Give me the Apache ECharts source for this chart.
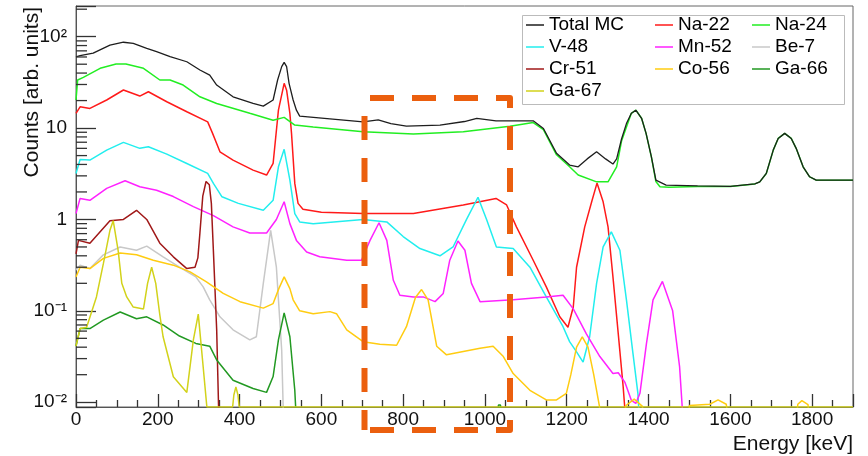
<!DOCTYPE html>
<html>
<head>
<meta charset="utf-8">
<script src="https://cdn.jsdelivr.net/npm/echarts@6/dist/echarts.min.js"></script>
<style>html,body{margin:0;padding:0;background:#fff}#c{width:868px;height:456px}</style>
</head>
<body>
<div id="c"></div>
<script>
// ---- data (energy keV, counts) ----
const ZERO = 0.00886; // histogram zero level drawn on the frame bottom
const OFF = 0.005;    // below the visible range
const yMajorTicks = [0.01, 0.1, 1, 10, 100];
const yMinorTicks = [0.02,0.03,0.04,0.05,0.06,0.07,0.08,0.09,0.2,0.3,0.4,0.5,0.6,0.7,0.8,0.9,2,3,4,5,6,7,8,9,20,30,40,50,60,70,80,90,200];
const yTickLabels = {0.01: '10\u207B\u00B2', 0.1: '10\u207B\u00B9', 1: '1', 10: '10', 100: '10\u00B2'};

const totalMC = [[0,60],[10,62],[42,66],[83,81],[116,87],[140,84.5],[173,74.6],[197,68.5],[230,60.4],[271,53.2],[303,43.2],[327,38],[344,29.6],[384,22],[433,18.6],[458,17.4],[482,20.3],[493,33.6],[503,47],[509,52.4],[515,47],[521,30.9],[531,20.3],[539,15.7],[547,13.5],[621,12.6],[702,11.7],[739,12.3],[770,11.2],[808,10.5],[890,10.8],[950,11.8],[980,12.8],[1027,12],[1118,12],[1143,9.9],[1175,5.3],[1207,3.94],[1228,3.77],[1250,4.6],[1273,5.5],[1295,4.6],[1313,4.04],[1322,4.6],[1334,7.6],[1346,11.2],[1358,14.5],[1369,15.7],[1383,12.8],[1394,8.75],[1407,4.85],[1418,2.69],[1443,2.38],[1520,2.33],[1600,2.3],[1660,2.45],[1672,2.58],[1688,3.19],[1705,5.74],[1717,7.7],[1733,8.75],[1749,7.7],[1761,6.0],[1778,3.77],[1794,2.93],[1810,2.69],[1900,2.69]];
const na22 = [[0,14.5],[10,17.1],[34,16.4],[75,20.3],[116,26.1],[156,22.4],[177,25],[222,19.4],[271,15.1],[322,11.7],[334,8.75],[352,5.5],[384,4.46],[433,3.47],[466,3.06],[482,4.1],[495,15.7],[509,30.9],[515,26],[523,14.5],[527,8.75],[535,2.48],[543,1.5],[555,1.29],[600,1.2],[702,1.16],[825,1.16],[947,1.44],[1027,1.7],[1053,1.44],[1077,0.83],[1118,0.358],[1150,0.183],[1183,0.086],[1203,0.066],[1216,0.11],[1224,0.3],[1244,0.83],[1261,1.56],[1274,2.5],[1289,1.56],[1301,0.83],[1313,0.235],[1326,0.056],[1338,0.0147],[1346,OFF]];
const na24 = [[0,20.3],[4,33.6],[18,35.9],[59,45.1],[98,50.2],[122,50.2],[165,45.1],[205,33.6],[230,33.6],[262,29.6],[303,22],[344,18.6],[425,14.5],[482,12.2],[509,13.1],[535,10.8],[580,10.3],[702,9.1],[825,8.6],[947,9.1],[1061,10.5],[1118,11.5],[1143,9.6],[1175,5.1],[1207,3.77],[1228,3.06],[1273,2.58],[1301,2.58],[1322,3.77],[1334,7.2],[1346,10.3],[1358,14.5],[1369,15.7],[1383,12.8],[1394,8.75],[1407,4.85],[1418,2.6],[1428,2.28],[1450,2.25],[1520,2.3],[1600,2.3],[1660,2.45],[1672,2.58],[1688,3.19],[1705,5.74],[1717,7.7],[1733,8.75],[1749,7.7],[1761,6.0],[1778,3.77],[1794,2.93],[1810,2.69],[1900,2.69]];
const v48 = [[0,3.19],[10,4.54],[34,4.46],[75,5.74],[116,6.97],[156,6.0],[177,6.24],[222,5.19],[271,4.1],[322,3.19],[336,2.48],[357,1.77],[397,1.5],[458,1.26],[482,1.62],[495,3.77],[509,5.85],[523,2.69],[535,1.16],[547,0.94],[580,0.9],[702,1.0],[760,0.94],[800,0.65],[841,0.48],[890,0.4],[922,0.5],[955,1.0],[983,1.75],[1004,1.0],[1028,0.5],[1069,0.48],[1110,0.3],[1150,0.142],[1191,0.067],[1207,0.046],[1224,0.0355],[1240,0.0275],[1256,0.052],[1273,0.2],[1289,0.5],[1309,0.73],[1330,0.46],[1346,0.132],[1362,0.034],[1374,0.0125],[1379,OFF]];
const mn52 = [[0,1.16],[10,1.7],[34,1.62],[75,2.19],[120,2.65],[156,2.28],[197,2.09],[238,1.78],[287,1.38],[336,1.1],[384,0.83],[425,0.71],[466,0.71],[490,1.0],[509,1.56],[523,0.9],[539,0.59],[564,0.44],[596,0.39],[662,0.358],[698,0.358],[719,0.59],[741,0.92],[760,0.59],[776,0.216],[792,0.148],[825,0.142],[849,0.142],[878,0.126],[898,0.155],[914,0.358],[934,0.58],[951,0.46],[967,0.2],[988,0.126],[1069,0.132],[1150,0.142],[1191,0.148],[1216,0.105],[1248,0.056],[1281,0.0316],[1313,0.0206],[1326,0.021],[1342,0.0166],[1358,0.0105],[1369,0.0097],[1379,0.0125],[1395,0.044],[1411,0.132],[1434,0.21],[1459,0.1],[1476,0.0243],[1486,OFF]];
const be7 = [[0,0.28],[10,0.316],[34,0.29],[67,0.41],[108,0.5],[148,0.46],[173,0.51],[213,0.39],[253,0.3],[293,0.235],[311,0.183],[327,0.132],[352,0.086],[384,0.062],[425,0.048],[441,0.052],[458,0.2],[476,0.76],[490,0.3],[503,0.037],[508,OFF]];
const cr51 = [[0,0.42],[6,0.59],[34,0.55],[83,0.97],[116,1.0],[148,1.26],[173,1.0],[205,0.55],[238,0.39],[271,0.29],[291,0.3],[298,0.38],[303,0.71],[310,1.8],[318,2.6],[326,2.4],[331,1.5],[336,0.45],[344,0.062],[350,OFF]];
const co56 = [[0,0.235],[10,0.3],[34,0.29],[67,0.375],[108,0.43],[148,0.41],[189,0.358],[238,0.316],[279,0.267],[319,0.207],[360,0.155],[401,0.126],[458,0.107],[482,0.12],[496,0.175],[509,0.235],[523,0.175],[531,0.132],[547,0.1],[580,0.093],[621,0.098],[637,0.093],[662,0.062],[702,0.046],[743,0.043],[784,0.042],[808,0.067],[830,0.14],[845,0.171],[861,0.132],[882,0.041],[906,0.033],[988,0.039],[1020,0.041],[1045,0.0316],[1069,0.0206],[1110,0.0135],[1150,0.0106],[1175,0.0106],[1199,0.0125],[1210,0.02],[1224,0.04],[1238,0.052],[1252,0.04],[1266,0.02],[1280,0.009],[1285,OFF],[1335,OFF],[1345,0.0092],[1365,0.0108],[1385,0.009],[1392,OFF],[1495,OFF],[1500,0.0092],[1550,0.0095],[1570,0.0106],[1590,0.0095],[1600,OFF],[1760,OFF],[1765,0.0095],[1775,0.0104],[1790,0.0094],[1795,OFF]];
const ga66 = [[0,0.041],[10,0.064],[34,0.064],[67,0.079],[108,0.097],[148,0.082],[173,0.086],[213,0.07],[253,0.053],[293,0.044],[327,0.041],[344,0.029],[384,0.0174],[433,0.0141],[466,0.0128],[482,0.0191],[495,0.048],[509,0.095],[523,0.052],[535,0.0135],[540,OFF],[1030,OFF],[1033,0.0093],[1038,0.0093],[1041,OFF]];
const ga67 = [[0,0.041],[10,0.064],[26,0.066],[50,0.142],[67,0.33],[83,0.76],[91,0.97],[103,0.46],[112,0.2],[124,0.142],[140,0.11],[165,0.105],[175,0.2],[185,0.3],[195,0.2],[205,0.09],[213,0.052],[238,0.019],[271,0.0128],[287,0.048],[299,0.092],[311,0.0243],[320,ZERO],[383,ZERO],[386,0.012],[391,0.0147],[396,0.012],[399,ZERO],[1900,ZERO]];

const seriesDefs = [
  ['Na-22', na22, '#ff1a1a'],
  ['Na-24', na24, '#22ee22'],
  ['V-48', v48, '#22eeee'],
  ['Mn-52', mn52, '#ff22ff'],
  ['Be-7', be7, '#c8c8c8'],
  ['Cr-51', cr51, '#a01818'],
  ['Co-56', co56, '#ffcc11'],
  ['Ga-66', ga66, '#229922'],
  ['Ga-67', ga67, '#d2d21a'],
  ['Total MC', totalMC, '#1e1e1e']
];

const FONT = "'Liberation Sans', Arial, Helvetica, sans-serif";
const chart = echarts.init(document.getElementById('c'), null, {renderer: 'canvas'});

const yMin = 0.00886, yMax = 216.8;
const legendCommon = {orient: 'vertical', itemGap: 0, itemWidth: 18, itemHeight: 1.5, padding: 0, icon: 'rect', selectedMode: false, textStyle: {fontSize: 19, lineHeight: 22, color: '#000', fontFamily: FONT}};

const lineSeries = seriesDefs.map(function (d, i) {
  return {
    name: d[0], type: 'line', data: d[1],
    showSymbol: false, symbol: 'none', clip: true, z: 2,
    color: d[2], itemStyle: {color: d[2]},
    lineStyle: {color: d[2], width: d[0] === 'Total MC' ? 1.3 : 1.5},
    emphasis: {disabled: true}
  };
});

// minor ticks of the log axis (2..9 x 10^n), drawn at the values through the axis scale
const minorTickSeries = {
  type: 'custom', clip: false, z: 50, data: yMinorTicks.map(function (v) { return [0, v]; }),
  renderItem: function (params, api) {
    const p = api.coord([api.value(0), api.value(1)]);
    return {type: 'line', shape: {x1: p[0], y1: p[1], x2: p[0] + 11, y2: p[1]}, style: {stroke: '#333', lineWidth: 1.3}};
  }
};

chart.setOption({
  animation: false,
  grid: {left: 76, right: 15, top: 6, bottom: 49, show: true, borderColor: '#666', borderWidth: 1, containLabel: false, outerBoundsMode: 'none'},
  xAxis: {type: 'value', min: 0, max: 1900, interval: 200, position: 'bottom',
    axisLine: {show: true, lineStyle: {color: '#555', width: 1}},
    axisTick: {show: true, inside: true, length: 13, lineStyle: {color: '#333', width: 1.3}},
    minorTick: {show: true, splitNumber: 4, length: 7, lineStyle: {color: '#333', width: 1.3}},
    axisLabel: {formatter: function (v) { return String(v); }, showMaxLabel: false, fontSize: 19, color: '#111', fontFamily: FONT, margin: 3},
    splitLine: {show: false},
    name: 'Energy [keV]', nameLocation: 'end', nameGap: 0,
    nameTextStyle: {fontSize: 21, color: '#111', fontFamily: FONT, align: 'right', verticalAlign: 'top', padding: [27, 0, 0, 0]}},
  yAxis: {type: 'log', logBase: 10, min: yMin, max: yMax, position: 'left',
    axisLine: {show: true, lineStyle: {color: '#555', width: 1}},
    axisTick: {show: true, inside: true, length: 20, lineStyle: {color: '#333', width: 1.3}},
    axisLabel: {customValues: yMajorTicks, formatter: function (v) {
        const k = Object.keys(yTickLabels).find(function (s) { return Math.abs(Math.log10(+s) - Math.log10(v)) < 1e-6; });
        return k !== undefined ? yTickLabels[k] : '';
      }, fontSize: 19, color: '#111', fontFamily: FONT, margin: 9},
    splitLine: {show: false}},
  legend: [
    Object.assign({data: ['Total MC', 'V-48', 'Cr-51', 'Ga-67'], left: 526, top: 14}, legendCommon),
    Object.assign({data: ['Na-22', 'Mn-52', 'Co-56'], left: 655, top: 14}, legendCommon),
    Object.assign({data: ['Na-24', 'Be-7', 'Ga-66'], left: 752, top: 14}, legendCommon)
  ],
  graphic: {elements: [
    {type: 'rect', z: 3, shape: {x: 522.5, y: 15.5, width: 322, height: 89}, style: {fill: '#fff', stroke: '#bbb', lineWidth: 1}},
    {type: 'text', z: 5, x: 32, y: 7, rotation: Math.PI / 2,
     style: {text: 'Counts [arb. units]', fontSize: 21, fontFamily: FONT, fill: '#111', align: 'right', verticalAlign: 'middle', textAlign: 'right', textVerticalAlign: 'middle'}},
    {type: 'polyline', z: 100, shape: {points: [[364.5, 98], [510, 98], [510, 430], [364.5, 430]]},
     style: {fill: 'none', stroke: '#eb5f0e', lineWidth: 6, lineDash: [24, 18], lineDashOffset: 36.5, lineCap: 'butt', lineJoin: 'round'}},
    {type: 'line', z: 100, shape: {x1: 364.5, y1: 430, x2: 364.5, y2: 98},
     style: {stroke: '#eb5f0e', lineWidth: 6, lineDash: [24, 18], lineDashOffset: 4, lineCap: 'butt'}}
  ]},
  series: lineSeries.concat([minorTickSeries])
});
</script>
</body>
</html>
